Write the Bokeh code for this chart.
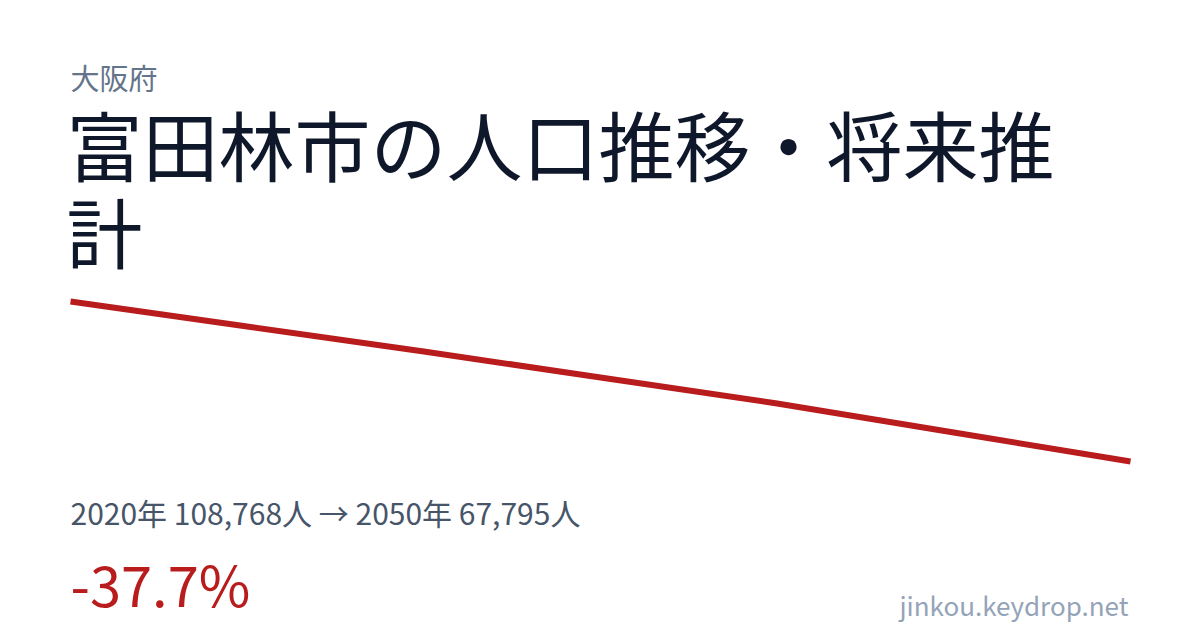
from bokeh.plotting import figure
from bokeh.models import Label, Range1d
from bokeh.embed import file_html
from bokeh.resources import INLINE

# ---- data ----
years = [2020, 2025, 2030, 2035, 2040, 2045, 2050]
population = [108768, 102368, 95968, 89312, 82656, 75232, 67795]
prefecture = "大阪府"
title_line1 = "富田林市の人口推移・将来推"
title_line2 = "計"
summary = "2020年 108,768人 → 2050年 67,795人"
change = "-37.7%"
site = "jinkou.keydrop.net"

# ---- layout ----
W, H = 1200, 630
FONT = "Noto Sans CJK JP"

# map data into the frame: first year at page x=70, last at x=1130;
# first value at page y=301, last at y=461
x0_px, x1_px = 70, 1130
y0_px, y1_px = H - 301, H - 461
xs = (years[-1] - years[0]) / (x1_px - x0_px)
ys = (population[0] - population[-1]) / (y0_px - y1_px)
x_range = Range1d(years[0] - x0_px * xs, years[-1] + (W - x1_px) * xs)
y_range = Range1d(population[-1] - y1_px * ys, population[0] + (H - y0_px) * ys)

p = figure(width=W, height=H, x_range=x_range, y_range=y_range,
           output_backend="svg", toolbar_location=None,
           x_axis_type=None, y_axis_type=None, min_border=0)
p.grid.visible = False
p.outline_line_color = None
p.background_fill_color = "white"
p.border_fill_color = "white"

p.line(years, population, line_width=6, color="#b91c1c", line_cap="butt", line_join="round")


def add_text(text, x, y_top, size, color, align="left"):
    p.add_layout(Label(x=x, y=H - y_top, x_units="screen", y_units="screen",
                       text=text, text_font=FONT, text_font_size=f"{size}px",
                       text_color=color, text_align=align, text_baseline="alphabetic"))


add_text(prefecture, 70, 76.5, 29, "#64748b")
add_text(title_line1, 66, 142, 76, "#0f172a")
add_text(title_line2, 66, 229, 76, "#0f172a")
add_text(summary, 70, 511, 30, "#475569")
add_text(change, 70, 582, 56, "#b91c1c")
add_text(site, 1128, 604, 26, "#94a3b8", align="right")

open("out.html", "w").write(file_html(p, INLINE))
